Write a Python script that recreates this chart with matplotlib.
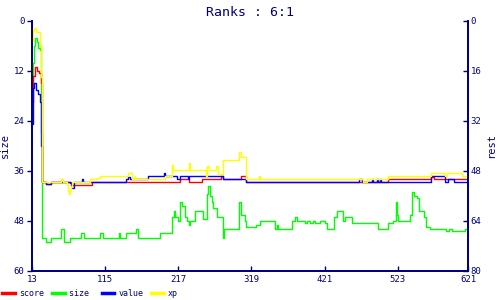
import matplotlib
matplotlib.use("Agg")
import matplotlib.pyplot as plt

# ---------------------------
# Data
# ---------------------------
size_x = [13, 14, 16, 17, 20, 21, 24, 25, 27, 33, 40, 54, 57, 66, 82, 85, 108, 112,
          134, 136, 144, 158, 161, 191, 208, 211, 212, 217, 219, 222, 226, 229, 232,
          234, 240, 252, 257, 259, 261, 264, 266, 271, 279, 281, 301, 302, 304, 310,
          312, 326, 331, 352, 354, 356, 376, 380, 382, 394, 396, 401, 405, 408, 415,
          422, 424, 434, 438, 447, 450, 459, 496, 510, 516, 520, 522, 524, 540, 543,
          545, 550, 553, 559, 563, 568, 591, 594, 598, 617, 621]
size_y = [15, 10, 6, 4, 5, 6.5, 7, 27, 52, 53, 52, 50, 53, 52, 51, 52, 51, 52,
          51, 52, 51, 50, 52, 51, 47, 45.5, 47, 48, 43.5, 44.5, 47, 48, 49,
          48, 45.5, 47.5, 41.5, 39.5, 42, 43.5, 45, 47, 52, 50, 46.5, 43.5, 46.5, 48,
          49.5, 49, 48, 50, 49, 50, 48, 47, 48, 48.5, 48, 48.5, 48, 48.5, 48,
          48.5, 50, 47, 45.5, 48, 47, 48.5, 50, 48.5, 48, 43.5, 46.5, 48, 46.5, 41,
          42, 42.5, 45.5, 47, 49.5, 50, 50.5, 50, 50.5, 50, 50]

score_x = [13, 14, 17, 20, 23, 25, 27, 33, 40, 68, 96, 220, 232, 250, 277, 280,
           305, 312, 510, 570, 573, 621]
score_y = [26, 17.5, 14.7, 16, 16.5, 20, 51.5, 52.3, 51.5, 52.5, 51.5, 50.7, 51.5,
           50.7, 49.6, 50.7, 49.6, 51.5, 50.7, 49.8, 50.7, 50.7]

value_x = [13, 14, 16, 18, 22, 24, 25, 27, 33, 40, 66, 69, 72, 83, 84, 144, 147,
           150, 175, 197, 199, 215, 220, 230, 232, 279, 312, 469, 473, 487, 489,
           494, 496, 498, 500, 570, 589, 593, 601, 621]
value_y = [33, 21.5, 20, 22, 23.5, 26, 40, 51.5, 52.3, 51.5, 52, 53.5, 51.5, 50.7,
           51.5, 50.7, 50, 50.7, 49.6, 48.5, 49.6, 50.7, 49.6, 50.7, 49.6, 50.7,
           51.5, 50.7, 51.5, 50.7, 51.5, 50.7, 51.5, 50.7, 51.5, 49.6, 51.5, 50.7,
           51.5, 51.5]

xp_x = [13, 14, 16, 18, 24, 25, 27, 53, 56, 62, 63, 65, 66, 67, 69, 94, 103, 108,
        147, 152, 156, 157, 198, 208, 210, 232, 234, 256, 257, 260, 270, 272, 280,
        302, 304, 312, 329, 331, 474, 480, 509, 570, 589, 592, 612, 621]
xp_y = [6.5, 3, 2.2, 3.5, 8, 18, 51.5, 50.7, 51.5, 52.5, 54.5, 55.5, 54, 53, 51.5,
        50.7, 50.2, 49.6, 48.7, 50.7, 49.6, 50.7, 49.6, 46.1, 47.7, 45.5, 47.7, 49.6,
        46.4, 47.7, 46.4, 49, 44.5, 41.8, 43.4, 50.7, 49.6, 50.7, 51.6, 50.7, 49.6,
        48.7, 49.6, 48.7, 49.6, 49.6]

x_ticks = [13, 115, 217, 319, 421, 523, 621]
left_ticks = [0, 12, 24, 36, 48, 60]
right_ticks = [0, 16, 32, 48, 64, 80]

navy = "#000080"
mono = "DejaVu Sans Mono"

# ---------------------------
# Figure
# ---------------------------
fig = plt.figure(figsize=(5, 3), dpi=100)
ax = fig.add_axes([0.064, 0.097, 0.872, 0.833])
ax2 = ax.twinx()

ax.plot(size_x, size_y, color="#00ff00", lw=1.0, drawstyle="steps-post", label="size ")
ax2.plot(score_x, score_y, color="#ff0000", lw=1.0, drawstyle="steps-post", label="score")
ax2.plot(value_x, value_y, color="#0000ff", lw=1.0, drawstyle="steps-post", label="value")
ax2.plot(xp_x, xp_y, color="#ffff00", lw=1.0, drawstyle="steps-post", label="xp")

ax.set_xlim(13, 621)
ax.set_ylim(60, 0)
ax2.set_ylim(80, 0)

ax.set_xticks(x_ticks)
ax.set_yticks(left_ticks)
ax2.set_yticks(right_ticks)

for a in (ax, ax2):
    for s in a.spines.values():
        s.set_color(navy)
        s.set_linewidth(1.3)
    a.spines["top"].set_visible(False)
    a.tick_params(colors=navy, labelsize=6.5, width=1, length=3.5)
    for lab in a.get_xticklabels() + a.get_yticklabels():
        lab.set_family(mono)

ax.tick_params(axis="x", direction="in", pad=3)
ax.tick_params(axis="y", direction="out", pad=2)
ax2.tick_params(axis="y", direction="in", pad=2)

ax.set_ylabel("size", color=navy, family=mono, fontsize=7.5, labelpad=3)
ax2.set_ylabel("rest", color=navy, family=mono, fontsize=7.5, rotation=90, labelpad=3)

fig.suptitle("Ranks : 6:1", color=navy, family=mono, fontsize=9.5, y=0.98)

# legend row at the bottom
h1, l1 = ax2.get_legend_handles_labels()
h0, l0 = ax.get_legend_handles_labels()
handles = [h1[0], h0[0], h1[1], h1[2]]
labels = [l1[0], l0[0], l1[1], l1[2]]
leg = fig.legend(handles, labels, loc="lower left", bbox_to_anchor=(0.0, 0.0),
                 borderaxespad=0.0, borderpad=0.3,
                 ncol=4, frameon=False, handlelength=1.5, handletextpad=0.5,
                 columnspacing=0.95, prop={"family": mono, "size": 6})
for line in leg.get_lines():
    line.set_linewidth(2.5)
for t in leg.get_texts():
    t.set_color(navy)

fig.savefig("out.png", dpi=100)
